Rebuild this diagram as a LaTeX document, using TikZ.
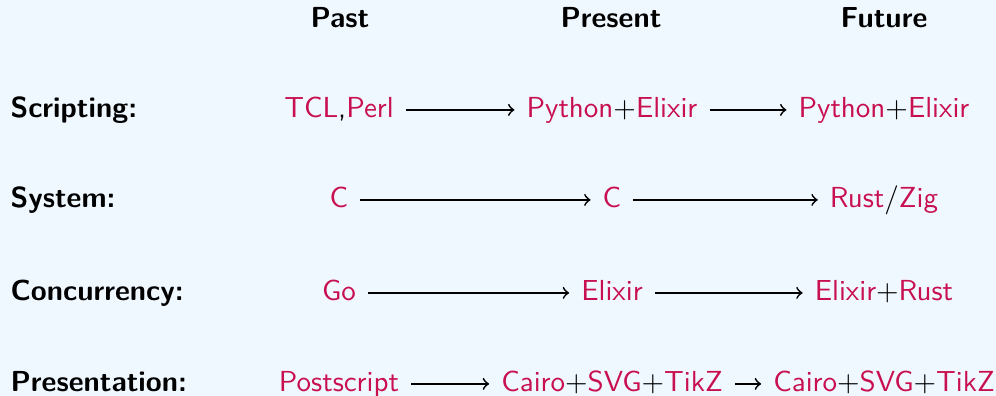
\documentclass[tikz,border=0pt]{standalone}
\usepackage{amsmath}
\usepackage{tikz}

\definecolor{slidebg}{RGB}{240,248,255}
\definecolor{langred}{RGB}{200,16,80}
\newcommand{\lng}[1]{\textcolor{langred}{#1}}

\begin{document}
\begin{tikzpicture}[x=0.345pt,y=-0.345pt,
	head/.style={anchor=base,font=\sffamily\bfseries},
	cat/.style={anchor=base west,inner xsep=0pt,font=\sffamily\bfseries},
	lang/.style={anchor=base,font=\sffamily,text height=6.9pt,text depth=2pt,inner xsep=4pt,inner ysep=0pt}]
					\useasboundingbox[fill=slidebg] (0,0) rectangle (996,396);
					\path
					(340,28) node[head] (past) {Past}
					(611,28) node[head] (present) {Present}
					(884,28) node[head] (future) {Future}
					(10,117) node[cat] (script) {Scripting:}
					(10,207) node[cat] (system) {System:}
					(10,300) node[cat] (conc) {Concurrency:}
					(10,391) node[cat] (pres) {Presentation:}
					(339,117) node[lang] (sa) {\lng{TCL},\lng{Perl}}
					(612,117) node[lang] (sb) {\lng{Python}+\lng{Elixir}}
					(884,117) node[lang] (sc) {\lng{Python}+\lng{Elixir}}
					(339,207) node[lang] (ya) {\lng{C}}
					(612,207) node[lang] (yb) {\lng{C}}
					(884,207) node[lang] (yc) {\lng{Rust}/\lng{Zig}}
					(339,300) node[lang] (ca) {\lng{Go}}
					(612,300) node[lang] (cb) {\lng{Elixir}}
					(884,300) node[lang] (cc) {\lng{Elixir}+\lng{Rust}}
					(339,391) node[lang] (pa) {\lng{Postscript}}
					(612,391) node[lang] (pb) {\lng{Cairo}+\lng{SVG}+\lng{TikZ}}
					(884,391) node[lang] (pc) {\lng{Cairo}+\lng{SVG}+\lng{TikZ}}
					;
					\path (sa) edge [->,semithick] (sb);
					\path (sb) edge [->,semithick] (sc);
					\path (ya) edge [->,semithick] (yb);
					\path (yb) edge [->,semithick] (yc);
					\path (ca) edge [->,semithick] (cb);
					\path (cb) edge [->,semithick] (cc);
					\path (pa) edge [->,semithick] (pb);
					\path (pb) edge [->,semithick] (pc);
				\end{tikzpicture}
\end{document}
